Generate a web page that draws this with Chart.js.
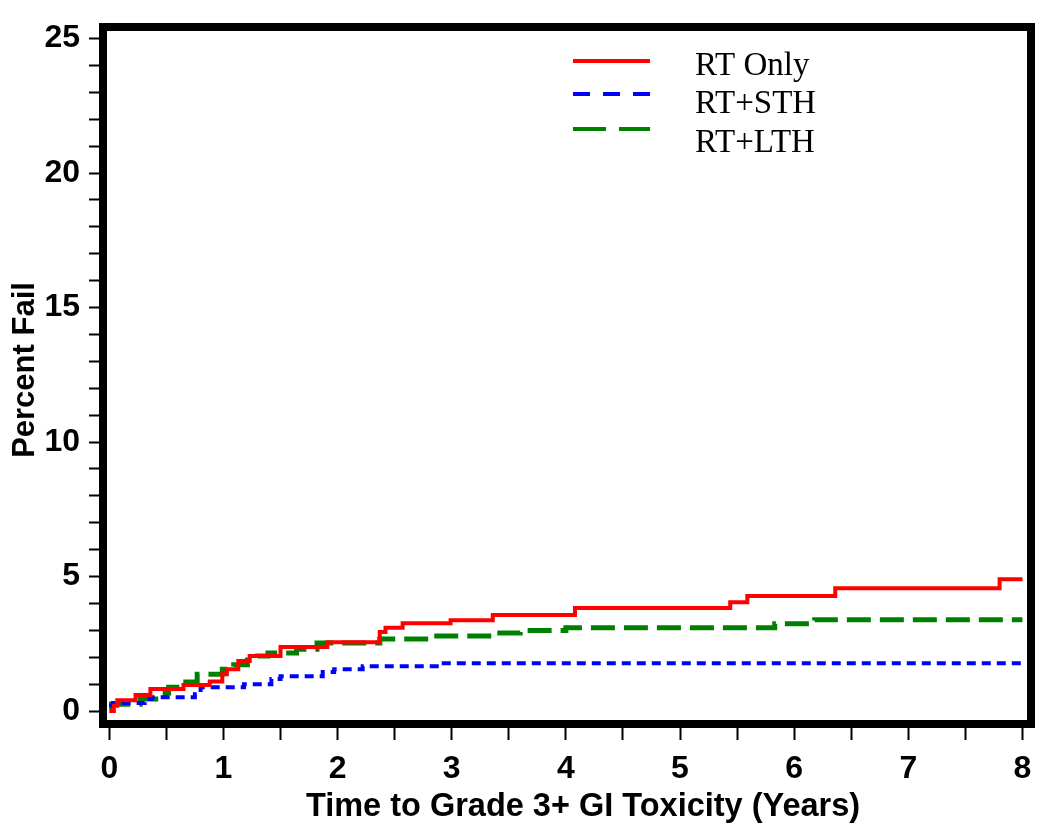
<!DOCTYPE html>
<html>
<head>
<meta charset="utf-8">
<script src="https://cdn.jsdelivr.net/npm/chart.js@4/dist/chart.umd.min.js"></script>
<style>
  html, body { margin: 0; padding: 0; background: #fff; }
  #wrap { width: 1050px; height: 839px; }
</style>
</head>
<body>
<div id="wrap"><canvas id="km" width="1050" height="839"></canvas></div>
<script>
// Cumulative % with grade 3+ GI toxicity.
// Each pair = (event time in years, percent failed from that time on)
const rtOnlyTimes = [0, 0.04, 0.07, 0.23, 0.36, 0.65, 0.88, 0.99, 1.03, 1.13, 1.23, 1.5, 1.91, 2.37, 2.42, 2.57, 2.99, 3.36, 4.08, 5.44, 5.59, 6.36, 7.8, 8.0];
const rtOnlyPct   = [0, 0.2, 0.4, 0.6, 0.82, 0.97, 1.1, 1.37, 1.56, 1.86, 2.05, 2.38, 2.56, 2.94, 3.1, 3.27, 3.38, 3.57, 3.83, 4.05, 4.28, 4.57, 4.9, 4.9];

const sthTimes = [0, 0.03, 0.31, 0.37, 0.75, 0.8, 1.18, 1.42, 1.5, 1.87, 1.97, 2.22, 2.93, 8.0];
const sthPct   = [0.2, 0.3, 0.45, 0.52, 0.63, 0.89, 1.0, 1.19, 1.3, 1.45, 1.56, 1.67, 1.78, 1.78];

const lthTimes = [0, 0.02, 0.27, 0.49, 0.52, 0.62, 0.77, 0.99, 1.09, 1.21, 1.3, 1.39, 1.64, 1.82, 2.37, 2.84, 3.36, 3.6, 4.0, 5.83, 6.18, 8.0];
const lthPct   = [0.15, 0.26, 0.45, 0.67, 0.89, 1.08, 1.37, 1.56, 1.72, 1.9, 2.05, 2.16, 2.3, 2.53, 2.68, 2.79, 2.9, 3.0, 3.1, 3.25, 3.4, 3.4];

const seriesNames = ['RT Only', 'RT+STH', 'RT+LTH'];

// axis ticks
const xMajorTicks = [0, 1, 2, 3, 4, 5, 6, 7, 8];
const xMinorTicks = [0.5, 1.5, 2.5, 3.5, 4.5, 5.5, 6.5, 7.5];
const yMajorTicks = [0, 5, 10, 15, 20, 25];
const yMinorTicks = [1, 2, 3, 4, 6, 7, 8, 9, 11, 12, 13, 14, 16, 17, 18, 19, 21, 22, 23, 24];

const xTitle = 'Time to Grade 3+ GI Toxicity (Years)';
const yTitle = 'Percent Fail';

const lineColors = ['#ff0000', '#0000ff', '#008000'];
const lineDashes = [[], [9, 6], [24, 9]];
const legendDashes = [[], [17, 13], [33, 13]];

function toPoints(times, pct) {
    return times.map(function(t, i) { return { x: t, y: pct[i] }; });
}

const tickFont = { family: '"Liberation Sans", Arial, sans-serif', size: 32, weight: 'bold' };

// thick frame, axis titles and legend drawn on top
const decorPlugin = {
    id: 'decor',
    afterDraw: function(chart) {
        const ctx = chart.ctx;
        const a = chart.chartArea;
        ctx.save();
        ctx.strokeStyle = '#000';
        ctx.lineWidth = 8;
        ctx.strokeRect(a.left - 4, a.top - 4, a.right - a.left + 8, a.bottom - a.top + 8);

        ctx.fillStyle = '#000';
        ctx.font = 'bold 32.5px "Liberation Sans", Arial, sans-serif';
        ctx.textAlign = 'center';
        ctx.textBaseline = 'alphabetic';
        ctx.fillText(xTitle, 583, 816);

        ctx.save();
        ctx.font = 'bold 31px "Liberation Sans", Arial, sans-serif';
        ctx.translate(34, 370);
        ctx.rotate(-Math.PI / 2);
        ctx.fillText(yTitle, 0, 0);
        ctx.restore();

        // legend
        const lineY = [61, 94, 129];
        const textY = [75, 113, 152];
        ctx.font = '33px "Liberation Serif", "Times New Roman", serif';
        ctx.textAlign = 'left';
        seriesNames.forEach(function(name, i) {
            ctx.beginPath();
            ctx.strokeStyle = lineColors[i];
            ctx.lineWidth = 4;
            ctx.setLineDash(legendDashes[i]);
            ctx.moveTo(573, lineY[i]);
            ctx.lineTo(650, lineY[i]);
            ctx.stroke();
            ctx.setLineDash([]);
            ctx.fillText(name, 695, textY[i]);
        });
        ctx.restore();
    }
};

new Chart(document.getElementById('km').getContext('2d'), {
    type: 'line',
    data: {
        datasets: [
            { label: seriesNames[0], data: toPoints(rtOnlyTimes, rtOnlyPct) },
            { label: seriesNames[1], data: toPoints(sthTimes, sthPct) },
            { label: seriesNames[2], data: toPoints(lthTimes, lthPct) }
        ].map(function(ds, i) {
            ds.borderColor = lineColors[i];
            ds.borderDash = lineDashes[i];
            ds.borderWidth = i === 2 ? 5 : 4;
            ds.stepped = true;
            ds.pointRadius = 0;
            ds.fill = false;
            return ds;
        })
    },
    options: {
        responsive: false,
        animation: false,
        layout: { padding: { top: 31, right: 23, left: 0, bottom: 0 } },
        plugins: {
            legend: { display: false },
            tooltip: { enabled: false }
        },
        scales: {
            x: {
                type: 'linear',
                min: -0.02,
                max: 8.04,
                afterBuildTicks: function(scale) {
                    scale.ticks = xMajorTicks.concat(xMinorTicks).sort(function(a, b) { return a - b; })
                        .map(function(v) { return { value: v }; });
                },
                afterFit: function(scale) { scale.height = 119; },
                border: { display: false },
                grid: { drawOnChartArea: false, drawTicks: true, tickLength: 20, tickWidth: 2, tickColor: '#000' },
                ticks: {
                    autoSkip: false,
                    maxRotation: 0,
                    padding: 10,
                    color: '#000',
                    font: tickFont,
                    callback: function(value) {
                        return xMajorTicks.includes(value) ? String(value) : '';
                    }
                }
            },
            y: {
                min: -0.33,
                max: 25.28,
                afterBuildTicks: function(scale) {
                    scale.ticks = yMajorTicks.concat(yMinorTicks).sort(function(a, b) { return a - b; })
                        .map(function(v) { return { value: v }; });
                },
                afterFit: function(scale) { scale.width = 107; },
                border: { display: false },
                grid: { drawOnChartArea: false, drawTicks: true, tickLength: 18, tickWidth: 2, tickColor: '#000' },
                ticks: {
                    autoSkip: false,
                    padding: 9,
                    color: '#000',
                    font: tickFont,
                    callback: function(value) {
                        return yMajorTicks.includes(value) ? String(value) : '';
                    }
                }
            }
        }
    },
    plugins: [decorPlugin]
});
</script>
</body>
</html>
